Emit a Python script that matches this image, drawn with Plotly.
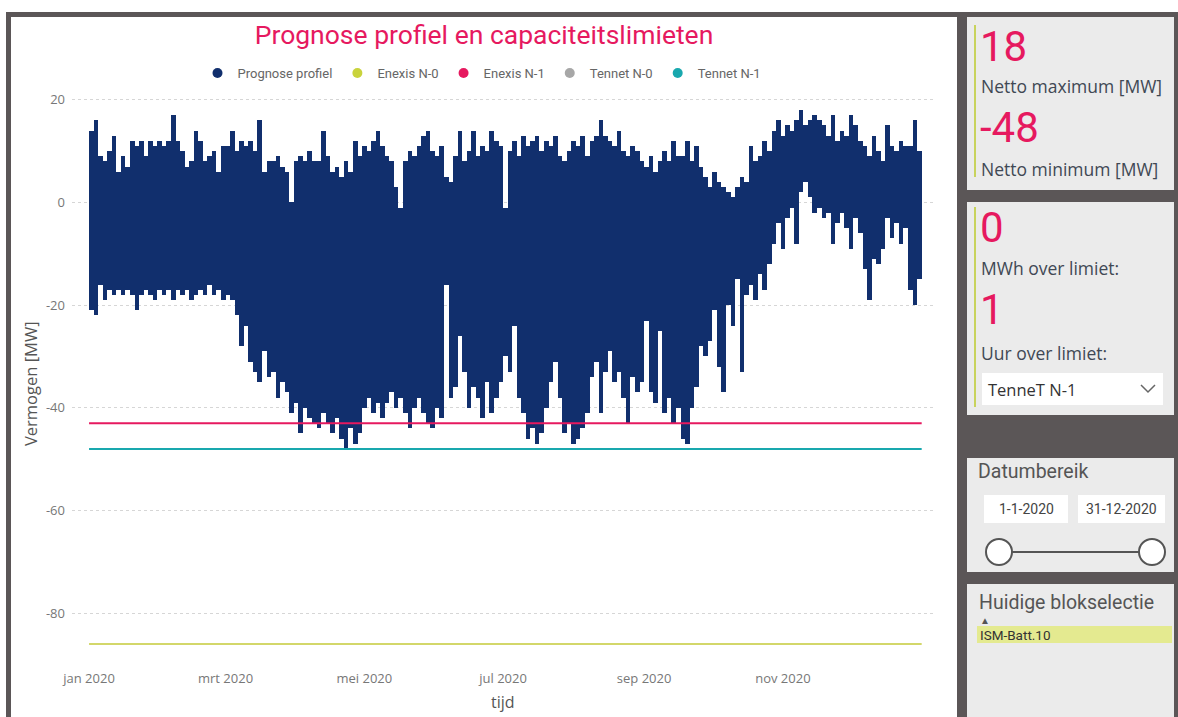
import pandas as pd
import numpy as np
import plotly.graph_objects as go

# ---------------- data ----------------
# Prognose profiel: estimated max / min per 2-day period of 2020 (MW)
upper = [
    14, 16, 9, 8, 10, 13, 6, 9, 7, 12,
    11, 12, 9, 12, 11, 12, 11, 12, 17, 12,
    10, 7, 8, 14, 12, 8, 9, 10, 6, 11,
    11, 14, 10, 12, 11, 12, 10, 16, 6, 8,
    8, 9, 7, 6, 0, 8, 9, 8, 10, 8,
    8, 14, 9, 6, 7, 5, 8, 6, 12, 9,
    11, 10, 12, 14, 11, 9, 8, 3, -1, 8,
    10, 9, 11, 13, 14, 10, 9, 11, 5, 4,
    9, 14, 8, 10, 14, 9, 11, 10, 14, 12,
    11, -1, 10, 12, 9, 13, 11, 12, 13, 10,
    12, 11, 13, 9, 8, 10, 12, 11, 13, 9,
    12, 13, 16, 13, 12, 11, 14, 10, 9, 11,
    10, 8, 7, 9, 6, 8, 10, 8, 12, 9,
    9, 12, 8, 11, 7, 5, 3, 6, 4, 3,
    2, 1, 3, 5, 4, 11, 8, 9, 12, 10,
    14, 16, 13, 15, 14, 16, 18, 15, 16, 17,
    16, 15, 13, 17, 12, 14, 13, 17, 15, 12,
    11, 9, 13, 10, 8, 15, 11, 10, 12, 11,
    11, 16, 10,
]
lower = [
    -21, -22, -16, -19, -17, -18, -17, -18, -17, -18,
    -21, -18, -17, -18, -19, -17, -18, -17, -19, -17,
    -18, -17, -19, -18, -17, -18, -16, -18, -17, -19,
    -18, -19, -22, -28, -24, -31, -33, -35, -29, -34,
    -33, -38, -35, -37, -41, -39, -45, -40, -42, -43,
    -44, -41, -43, -45, -42, -46, -48, -44, -47, -45,
    -40, -38, -41, -39, -42, -39, -37, -40, -38, -41,
    -44, -40, -38, -41, -43, -44, -40, -42, -16, -38,
    -36, -26, -33, -40, -36, -38, -42, -35, -41, -38,
    -35, -30, -33, -24, -38, -41, -46, -44, -47, -45,
    -40, -35, -31, -38, -45, -43, -47, -46, -44, -41,
    -34, -31, -41, -33, -29, -35, -33, -38, -43, -34,
    -37, -35, -23, -37, -39, -25, -41, -38, -43, -40,
    -46, -47, -40, -36, -28, -30, -27, -21, -32, -37,
    -20, -24, -15, -33, -18, -16, -19, -14, -17, -12,
    -8, -4, -9, -3, -1, -8, 2, 4, 1, -2,
    -1, -3, -2, -8, -4, -2, -5, -9, -3, -6,
    -13, -19, -11, -12, -9, -3, -7, -4, -8, -5,
    -17, -20, -15,
]
period_days = 2

# capacity limits (MW)
limit_names = ["Enexis N-0", "Enexis N-1", "Tennet N-1"]
limit_values = [-86, -43, -48]
limit_period = ["2020-01-01", "2021-01-01"]

legend_names = ["Prognose profiel", "Enexis N-0", "Enexis N-1", "Tennet N-0", "Tennet N-1"]

x_tick_dates = ["2020-01-01", "2020-03-01", "2020-05-01", "2020-07-01", "2020-09-01", "2020-11-01"]
x_tick_labels = ["jan 2020", "mrt 2020", "mei 2020", "jul 2020", "sep 2020", "nov 2020"]
y_tick_vals = [-80, -60, -40, -20, 0, 20]
y_tick_labels = ["-80", "-60", "-40", "-20", "0", "20"]

kpi_max = "18"
kpi_min = "-48"
kpi_mwh = "0"
kpi_uur = "1"

# ---------------- style ----------------
W, H = 1178, 717
L, R, T, B = 72, 934, 88, 665
PW, PH = R - L, B - T

NAVY = "#112f6d"
PINK = "#e6195f"
TEAL = "#19a8ae"
YELLOW = "#d3d76a"
YELLOW_DOT = "#c9d33c"
GREY = "#a7a7a7"
DARK = "#5b5657"
PANEL = "#ebebeb"
ACCENT = "#c8d35c"
colors = {"Prognose profiel": NAVY, "Enexis N-0": YELLOW_DOT, "Enexis N-1": PINK,
          "Tennet N-0": GREY, "Tennet N-1": TEAL}
line_colors = {"Enexis N-0": YELLOW, "Enexis N-1": PINK, "Tennet N-1": TEAL}

TITLE_FONT = "Roboto"
BODY_FONT = "Open Sans"


def xp(px):
    return (px - L) / PW


def yp(py):
    return (B - py) / PH


up = np.array(upper, dtype=float)
lo = np.array(lower, dtype=float)
starts = pd.date_range("2020-01-01", periods=len(up), freq=f"{period_days}D")

fig = go.Figure()

fig.add_trace(go.Bar(
    x=starts, y=up - lo, base=lo, offset=0,
    width=period_days * 86400000,
    marker=dict(color=NAVY, line=dict(width=0)),
    showlegend=False, name="Prognose profiel",
))

for name, val in zip(limit_names, limit_values):
    fig.add_trace(go.Scatter(
        x=limit_period, y=[val, val], mode="lines",
        line=dict(color=line_colors[name], width=2),
        showlegend=False, name=name,
    ))

for name in legend_names:
    fig.add_trace(go.Scatter(
        x=[None], y=[None], mode="markers", name=name,
        marker=dict(color=colors[name], size=10, symbol="circle"),
    ))

shapes = []
annotations = []


def rect(x0, y0, x1, y1, fill, line_color=None, lw=0):
    shapes.append(dict(type="rect", xref="paper", yref="paper",
                       x0=xp(x0), x1=xp(x1), y0=yp(y1), y1=yp(y0),
                       fillcolor=fill, line=dict(width=lw, color=line_color or fill),
                       layer="below"))


def vline(x, y0, y1, color, w):
    shapes.append(dict(type="line", xref="paper", yref="paper",
                       x0=xp(x), x1=xp(x), y0=yp(y0), y1=yp(y1),
                       line=dict(color=color, width=w), layer="below"))


def text(x, y, s, size, color, family=BODY_FONT, xanchor="left", angle=0):
    annotations.append(dict(xref="paper", yref="paper", x=xp(x), y=yp(y), text=s,
                            showarrow=False, xanchor=xanchor, yanchor="middle",
                            textangle=angle,
                            font=dict(size=size, color=color, family=family)))


# frame and panels
rect(6, 12, 1178, 717, DARK)
rect(11, 17, 957, 717, "white")
rect(967, 17, 1174, 190, PANEL)
rect(967, 202, 1174, 415, PANEL)
rect(967, 458, 1174, 572, PANEL)
rect(967, 584, 1174, 717, PANEL)

# KPI card 1
vline(975, 25, 177, ACCENT, 2)
text(978, 47, kpi_max, 42, PINK, TITLE_FONT)
text(979, 86, "Netto maximum [MW]", 17.5, "#404854")
text(978, 127, kpi_min, 42, PINK, TITLE_FONT)
text(979, 169, "Netto minimum [MW]", 17.5, "#404854")

# KPI card 2
vline(975, 207, 407, ACCENT, 2)
text(978, 228, kpi_mwh, 42, PINK, TITLE_FONT)
text(979, 268, "MWh over limiet:", 17.5, "#404854")
text(978, 309, kpi_uur, 42, PINK, TITLE_FONT)
text(979, 353, "Uur over limiet:", 17.5, "#404854")
rect(982, 373, 1163, 405, "white")
text(986, 389, "TenneT N-1", 16.5, "#333333")
shapes.append(dict(type="path", xref="paper", yref="paper",
                   path=f"M {xp(1141)},{yp(385)} L {xp(1148)},{yp(392)} L {xp(1155)},{yp(385)}",
                   line=dict(color="#666666", width=1.5)))

# date range slicer
text(976, 472, "Datumbereik", 19.5, "#555555", TITLE_FONT)
rect(984, 495, 1068, 523, "white")
rect(1078, 495, 1165, 523, "white")
text(1026, 509, "1-1-2020", 14, "#444444", TITLE_FONT, "center")
text(1121, 509, "31-12-2020", 14, "#444444", TITLE_FONT, "center")
shapes.append(dict(type="line", xref="paper", yref="paper",
                   x0=xp(999), x1=xp(1152), y0=yp(552), y1=yp(552),
                   line=dict(color="#555555", width=2)))
for cx in (999, 1152):
    shapes.append(dict(type="circle", xref="paper", yref="paper",
                       x0=xp(cx - 13), x1=xp(cx + 13), y0=yp(552 + 13), y1=yp(552 - 13),
                       fillcolor="white", line=dict(color="#555555", width=2)))

# block selection
text(977, 602, "Huidige blokselectie", 19.5, "#555555", TITLE_FONT)
text(978, 620, "▲", 10, "#555555")
rect(977, 626, 1172, 643, "#e4ea90")
text(978, 635, "ISM-Batt.10", 13.5, "#333333", TITLE_FONT)

# axis titles
text(503, 702, "tijd", 16, "#555555", BODY_FONT, "center")
text(30, 384, "Vermogen [MW]", 16.5, "#555555", BODY_FONT, "center", angle=-90)

fig.update_layout(
    width=W, height=H,
    margin=dict(l=L, r=W - R, t=T, b=H - B, pad=0),
    paper_bgcolor="white", plot_bgcolor="rgba(0,0,0,0)",
    bargap=0,
    title=dict(text="Prognose profiel en capaciteitslimieten",
               x=484 / W, y=1 - 35 / H, xanchor="center", yanchor="middle",
               font=dict(family=TITLE_FONT, size=26.5, color=PINK)),
    legend=dict(orientation="h", x=xp(482), y=yp(73), xanchor="center", yanchor="middle",
                font=dict(family=TITLE_FONT, size=13, color="#666666"),
                itemwidth=30, bgcolor="rgba(0,0,0,0)", tracegroupgap=0),
    xaxis=dict(type="date",
               range=["2019-12-24 12:00", "2021-01-06 10:00"],
               tickvals=x_tick_dates, ticktext=x_tick_labels,
               showgrid=False, zeroline=False, showline=False, ticks="",
               ticklabelstandoff=4,
               tickfont=dict(family=BODY_FONT, size=13, color="#777777")),
    yaxis=dict(range=[-90.1, 22.3], tickvals=y_tick_vals, ticktext=y_tick_labels,
               showgrid=True, gridcolor="#d6d6d6", griddash="dot", gridwidth=1,
               zeroline=False, showline=False, ticks="", ticklabelstandoff=6,
               tickfont=dict(family=BODY_FONT, size=13, color="#777777")),
    shapes=shapes, annotations=annotations,
    showlegend=True,
)

fig.write_html("out.html", config={"displayModeBar": False},
               post_script="document.body.style.margin='0';document.body.style.overflow='hidden';")
